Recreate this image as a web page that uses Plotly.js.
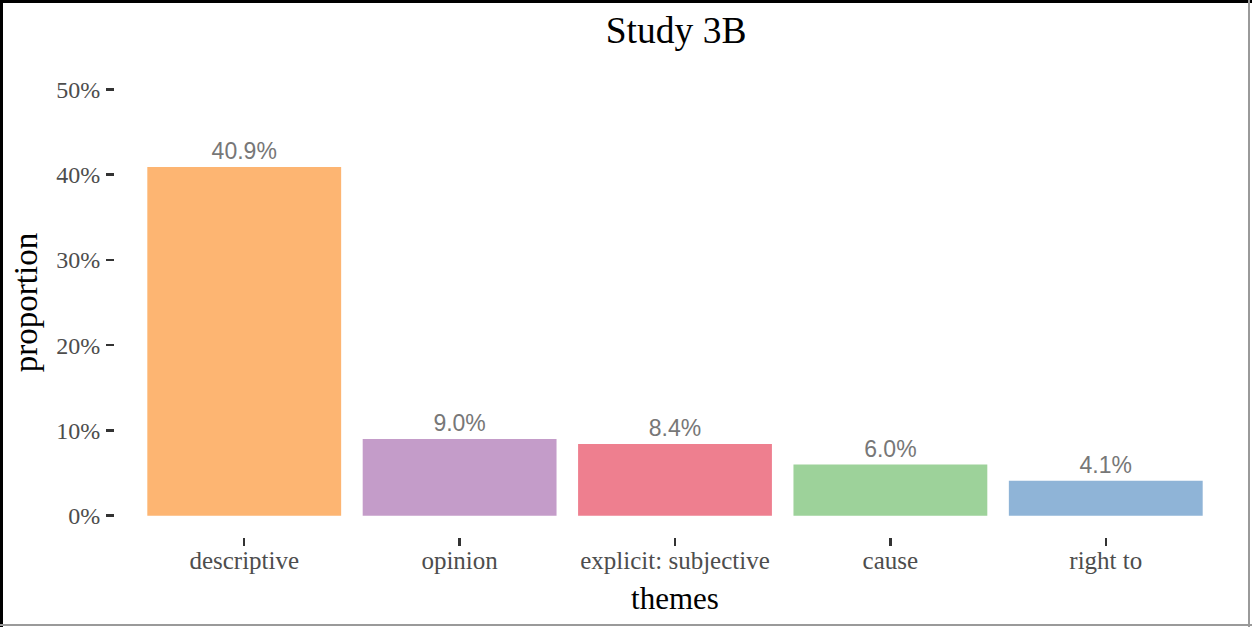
<!DOCTYPE html>
<html>
<head>
<meta charset="utf-8">
<script src="https://cdn.plot.ly/plotly-3.0.1.min.js"></script>
<style>
  html, body { margin: 0; padding: 0; background: #fff; }
  #wrap { position: relative; width: 1252px; height: 627px; overflow: hidden; }
  #chart { position: absolute; left: 0; top: 0; width: 1252px; height: 627px; }
  .bd { position: absolute; pointer-events: none; }
</style>
</head>
<body>
<div id="wrap">
  <div id="chart"></div>
  <div class="bd" style="left:0;top:0;width:3px;height:627px;background:#000;"></div>
  <div class="bd" style="left:0;top:0;width:1252px;height:3px;background:#000;"></div>
  <div class="bd" style="left:1248px;top:0;width:2px;height:627px;background:#9a9a9a;"></div>
  <div class="bd" style="left:0;top:624px;width:1252px;height:2px;background:#9a9a9a;"></div>
</div>
<script>
const themes = ["descriptive", "opinion", "explicit: subjective", "cause", "right to"];
const proportions = [0.409, 0.090, 0.084, 0.060, 0.041];
const barColors = ["#FDB572", "#C49CC9", "#EE7F8F", "#9DD29A", "#8FB4D7"];
const yTickVals = [0, 0.1, 0.2, 0.3, 0.4, 0.5];

const trace = {
  type: "bar",
  x: themes,
  y: proportions,
  width: 0.9,
  marker: { color: barColors, line: { width: 0 } },
  texttemplate: "%{y:.1%}",
  textposition: "outside",
  cliponaxis: false,
  textfont: { family: "Liberation Sans, Arial, sans-serif", size: 23, color: "#777777" },
  hoverinfo: "skip"
};

const layout = {
  width: 1252,
  height: 627,
  paper_bgcolor: "#ffffff",
  plot_bgcolor: "#ffffff",
  showlegend: false,
  margin: { l: 115, r: 17, t: 68, b: 90, pad: 0 },
  title: {
    text: "Study 3B",
    x: 0.54, xanchor: "center",
    y: 0.952, yanchor: "middle",
    font: { family: "Liberation Serif, Times New Roman, serif", size: 37.5, color: "#000000" }
  },
  xaxis: {
    type: "category",
    range: [-0.6, 4.6],
    showgrid: false,
    zeroline: false,
    showline: false,
    ticks: "outside",
    ticklen: 8,
    tickwidth: 2.5,
    tickcolor: "#333333",
    ticklabelstandoff: -7,
    tickfont: { family: "Liberation Serif, Times New Roman, serif", size: 25, color: "#4d4d4d" },
    title: {
      text: "themes",
      standoff: 14,
      font: { family: "Liberation Serif, Times New Roman, serif", size: 31, color: "#000000" }
    }
  },
  yaxis: {
    range: [-0.025, 0.525],
    tickvals: yTickVals,
    tickformat: ".0%",
    showgrid: false,
    zeroline: false,
    showline: false,
    ticks: "outside",
    ticklen: 8,
    tickwidth: 2.5,
    tickcolor: "#333333",
    ticklabelstandoff: 1,
    tickfont: { family: "Liberation Serif, Times New Roman, serif", size: 24, color: "#4d4d4d" },
    title: {
      text: "proportion",
      standoff: 8,
      font: { family: "Liberation Serif, Times New Roman, serif", size: 33, color: "#000000" }
    }
  },
  bargap: 0.1
};

Plotly.newPlot("chart", [trace], layout, { displayModeBar: false, staticPlot: true });
</script>
</body>
</html>
